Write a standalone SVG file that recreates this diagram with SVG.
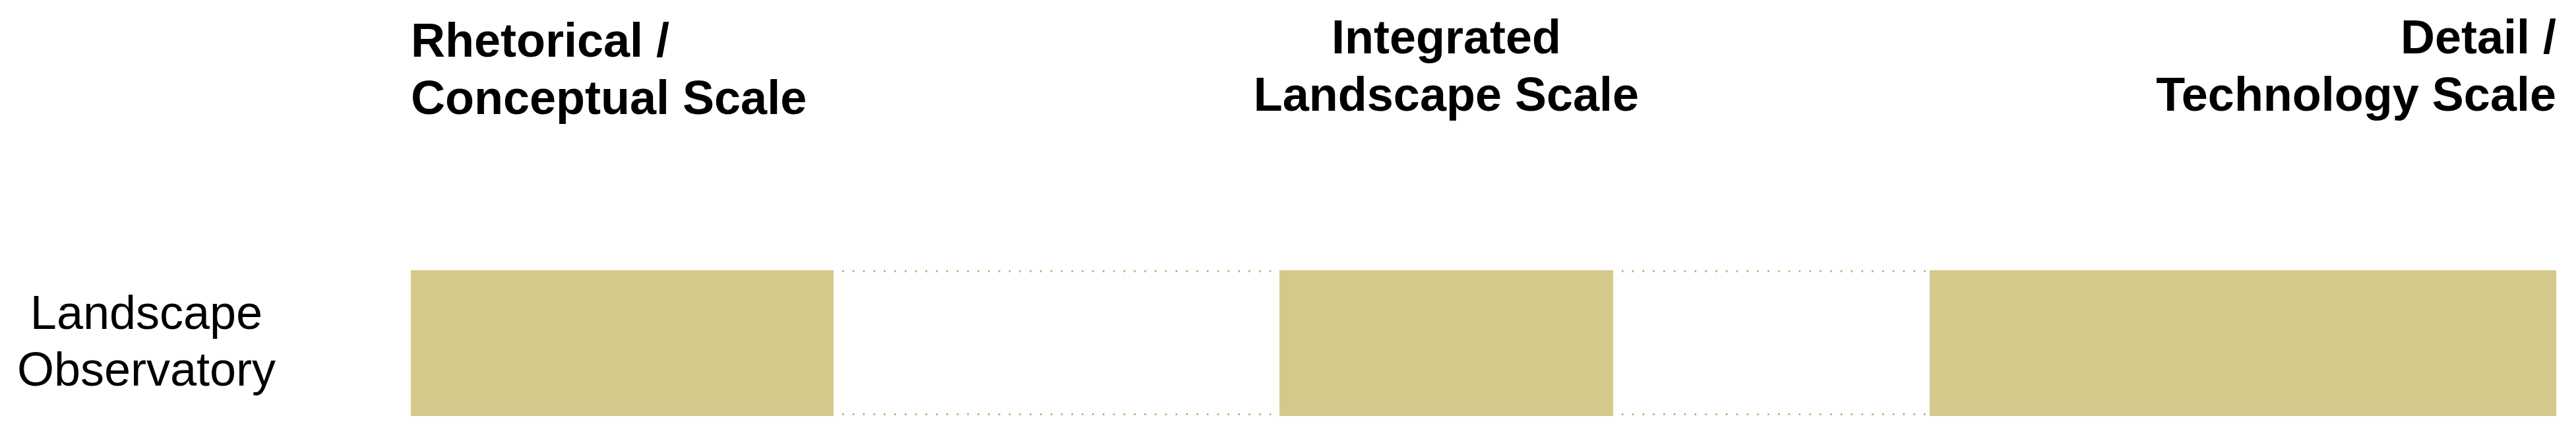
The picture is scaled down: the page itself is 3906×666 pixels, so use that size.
<svg xmlns="http://www.w3.org/2000/svg" width="3906" height="666" viewBox="0 0 3906 666">
  <style>
    .hdr { font-family: "Liberation Sans", Arial, sans-serif; font-weight: bold; font-size: 72px; fill: #000; }
    .lbl { font-family: "Liberation Sans", Arial, sans-serif; font-size: 72px; fill: #000; }
    .bar { fill: #d5c88b; }
    .dot { stroke: #b9b06f; stroke-width: 3; stroke-dasharray: 2.5 13.3; fill: none; }
  </style>
  <rect width="3906" height="666" fill="#ffffff"/>
  <g id="header-rhetorical">
    <text class="hdr" x="623" y="86">Rhetorical /</text>
    <text class="hdr" x="623" y="173">Conceptual Scale</text>
  </g>
  <g id="header-integrated">
    <text class="hdr" x="2193" y="81" text-anchor="middle">Integrated</text>
    <text class="hdr" x="2193" y="168" text-anchor="middle">Landscape Scale</text>
  </g>
  <g id="header-detail">
    <text class="hdr" x="3876" y="81" text-anchor="end">Detail /</text>
    <text class="hdr" x="3876" y="168" text-anchor="end">Technology Scale</text>
  </g>
  <g id="row-label">
    <text class="lbl" x="222" y="499" text-anchor="middle">Landscape</text>
    <text class="lbl" x="222" y="585" text-anchor="middle">Observatory</text>
  </g>
  <g id="connectors">
    <line class="dot" x1="1277" y1="411.5" x2="1940" y2="411.5"/>
    <line class="dot" x1="1277" y1="628.5" x2="1940" y2="628.5"/>
    <line class="dot" x1="2459" y1="411.5" x2="2926" y2="411.5"/>
    <line class="dot" x1="2459" y1="628.5" x2="2926" y2="628.5"/>
  </g>
  <g id="bar-rhetorical">
    <rect class="bar" x="623" y="410" width="641" height="221"/>
  </g>
  <g id="bar-integrated">
    <rect class="bar" x="1940" y="410" width="506" height="221"/>
  </g>
  <g id="bar-detail">
    <rect class="bar" x="2926" y="410" width="950" height="221"/>
  </g>
</svg>
